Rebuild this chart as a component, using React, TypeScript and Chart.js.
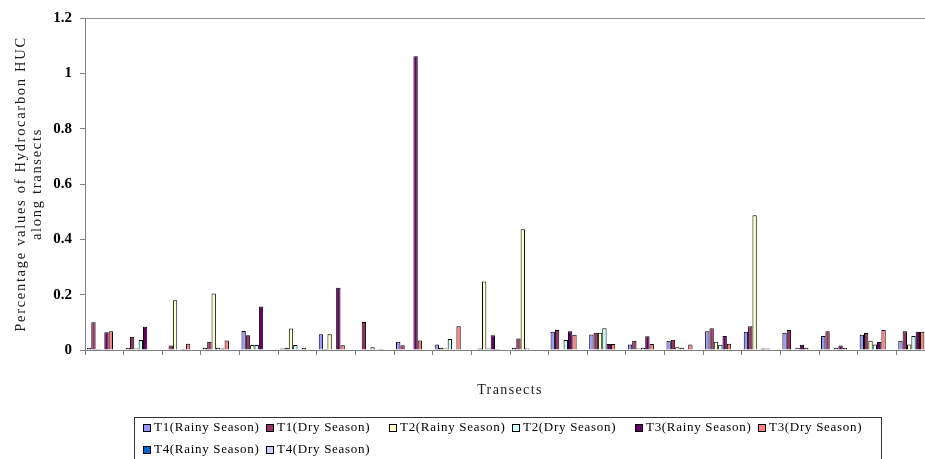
import React, { useEffect, useRef } from 'react';
import { Chart, registerables } from 'chart.js';

Chart.register(...registerables);

// Sampling stations along the transects
const transects = [
  '1', '2', '3', '4', '5', '6', '7', '8', '9', '10', '11',
  '12', '13', '14', '15', '16', '17', '18', '19', '20', '21', '22',
];

// Percentage HUC per station and season
const t1Rainy = [0.008, 0.008, 0.002, 0.008, 0.069, 0.005, 0.057, 0.002, 0.03, 0.02, 0.003, 0.008, 0.066, 0.056, 0.02, 0.033, 0.068, 0.066, 0.062, 0.051, 0.055, 0.033];
const t1Dry = [0.1, 0.048, 0.016, 0.03, 0.053, 0.008, 0.004, 0.101, 0.017, 0.008, 0.005, 0.042, 0.072, 0.062, 0.033, 0.037, 0.079, 0.086, 0.072, 0.068, 0.061, 0.068];
const t2Rainy = [0.004, 0.005, 0.18, 0.204, 0.018, 0.078, 0.057, 0.002, 0.003, 0.005, 0.248, 0.436, 0.003, 0.062, 0.005, 0.01, 0.03, 0.487, 0.003, 0.003, 0.033, 0.02];
const t2Dry = [0.003, 0.036, 0.003, 0.008, 0.018, 0.018, 0.003, 0.01, 0.003, 0.04, 0.005, 0.005, 0.036, 0.079, 0.008, 0.008, 0.019, 0.003, 0.008, 0.008, 0.02, 0.051];
const t3Rainy = [0.064, 0.084, 0.004, 0.005, 0.157, 0.003, 0.225, 0.002, 1.062, 0.003, 0.053, 0.003, 0.068, 0.022, 0.05, 0.003, 0.051, 0.005, 0.019, 0.016, 0.029, 0.066];
const t3Dry = [0.068, 0, 0.023, 0.034, 0.003, 0.007, 0.017, 0.004, 0.034, 0.086, 0.004, 0.003, 0.055, 0.022, 0.022, 0.02, 0.023, 0.005, 0.008, 0.008, 0.072, 0.066];
const t4Rainy = [0, 0, 0, 0, 0, 0, 0, 0, 0, 0, 0, 0, 0, 0, 0, 0, 0, 0, 0, 0, 0, 0];
const t4Dry = [0, 0, 0, 0, 0, 0, 0, 0, 0, 0, 0, 0, 0, 0, 0, 0, 0, 0, 0, 0, 0, 0];

const seriesLabels = [
  'T1(Rainy Season)', 'T1(Dry Season)', 'T2(Rainy Season)', 'T2(Dry Season)',
  'T3(Rainy Season)', 'T3(Dry Season)', 'T4(Rainy Season)', 'T4(Dry Season)',
];
const seriesValues = [t1Rainy, t1Dry, t2Rainy, t2Dry, t3Rainy, t3Dry, t4Rainy, t4Dry];
const seriesColors = ['#9999FF', '#993366', '#FFFFCC', '#CCFFFF', '#660066', '#FF8080', '#0066CC', '#CCCCFF'];

const xTitle = 'Transects';
const yTitle = ['Percentage values of Hydrocarbon HUC', 'along transects'];

const SERIF = '"Liberation Serif", "Times New Roman", serif';
const CANVAS_W = 935;
const CANVAS_H = 459;

// Plot frame, axis titles and the boxed two-row legend
const decorPlugin = {
  id: 'decor',
  afterDraw(chart: any) {
    const { ctx, chartArea } = chart;
    const { left, right, top, bottom } = chartArea;
    const cx = (left + right) / 2;
    ctx.save();

    // top edge of the plot area
    ctx.strokeStyle = '#8c8c8c';
    ctx.lineWidth = 1;
    ctx.beginPath();
    ctx.moveTo(left, top + 0.5);
    ctx.lineTo(right, top + 0.5);
    ctx.stroke();

    // axis titles
    ctx.fillStyle = '#1a1a1a';
    ctx.textAlign = 'center';
    ctx.textBaseline = 'middle';
    ctx.font = `14px ${SERIF}`;
    ctx.letterSpacing = '1.4px';
    ctx.fillText(xTitle, cx, bottom + 40);

    ctx.save();
    ctx.translate(21, (top + bottom) / 2);
    ctx.rotate(-Math.PI / 2);
    ctx.font = `14.5px ${SERIF}`;
    ctx.letterSpacing = '1.7px';
    yTitle.forEach((line, i) => ctx.fillText(line, 0, i * 16));
    ctx.restore();

    // legend
    const boxW = 747;
    const boxLeft = Math.round(cx - 376) + 0.5;
    const boxTop = chart.height - 42 + 0.5;
    ctx.strokeStyle = '#333';
    ctx.strokeRect(boxLeft, boxTop, boxW, 44);

    ctx.font = `13px ${SERIF}`;
    ctx.letterSpacing = '0.7px';
    ctx.textAlign = 'left';
    ctx.fillStyle = '#000';
    chart.data.datasets.forEach((ds: any, i: number) => {
      const col = i % 6;
      const row = Math.floor(i / 6);
      const x = Math.round(boxLeft + 8 + col * 123);
      const y = Math.round(boxTop + 10 + row * 22);
      ctx.fillStyle = ds.backgroundColor;
      ctx.fillRect(x, y - 4, 7, 7);
      ctx.strokeStyle = '#000';
      ctx.strokeRect(x + 0.5, y - 3.5, 7, 7);
      ctx.fillStyle = '#000';
      ctx.fillText(ds.label, x + 11, y);
    });

    ctx.restore();
  },
};

export default function App() {
  const canvasRef = useRef<HTMLCanvasElement | null>(null);

  useEffect(() => {
    const canvas = canvasRef.current;
    if (!canvas) return;

    const chart = new Chart(canvas, {
      type: 'bar',
      data: {
        labels: transects,
        datasets: seriesValues.map((values, i) => ({
          label: seriesLabels[i],
          data: values,
          backgroundColor: seriesColors[i],
          borderColor: '#000',
          borderWidth: 1,
          categoryPercentage: 0.9,
          barPercentage: 1,
        })),
      },
      options: {
        responsive: false,
        animation: false,
        events: [],
        layout: { padding: { top: 18, right: 0, bottom: 0, left: 0 } },
        plugins: {
          legend: { display: false },
          tooltip: { enabled: false },
          title: { display: false },
        },
        scales: {
          x: {
            grid: {
              display: true,
              drawOnChartArea: false,
              drawTicks: true,
              tickLength: 5,
              color: '#7f7f7f',
              offset: true,
            },
            border: { display: true, color: '#7f7f7f', width: 1 },
            ticks: { display: false },
            afterFit: (scale: any) => {
              scale.height = 109;
            },
          },
          y: {
            min: 0,
            max: 1.2,
            grid: {
              display: true,
              drawOnChartArea: false,
              drawTicks: true,
              tickLength: 5,
              color: '#7f7f7f',
            },
            border: { display: true, color: '#7f7f7f', width: 1 },
            ticks: {
              stepSize: 0.2,
              padding: 8,
              color: '#000',
              font: { family: SERIF, size: 15, weight: 'bold' },
              callback: (v: any) => String(Number(Number(v).toFixed(1))),
            },
            afterFit: (scale: any) => {
              scale.width = 85;
            },
          },
        },
      },
      plugins: [decorPlugin],
    });

    return () => chart.destroy();
  }, []);

  return (
    <div
      style={{
        position: 'absolute',
        left: 0,
        top: 0,
        width: 925,
        height: 459,
        overflow: 'hidden',
        background: '#fff',
      }}
    >
      <canvas
        ref={canvasRef}
        width={CANVAS_W}
        height={CANVAS_H}
        style={{ display: 'block', width: CANVAS_W, height: CANVAS_H }}
      />
    </div>
  );
}
